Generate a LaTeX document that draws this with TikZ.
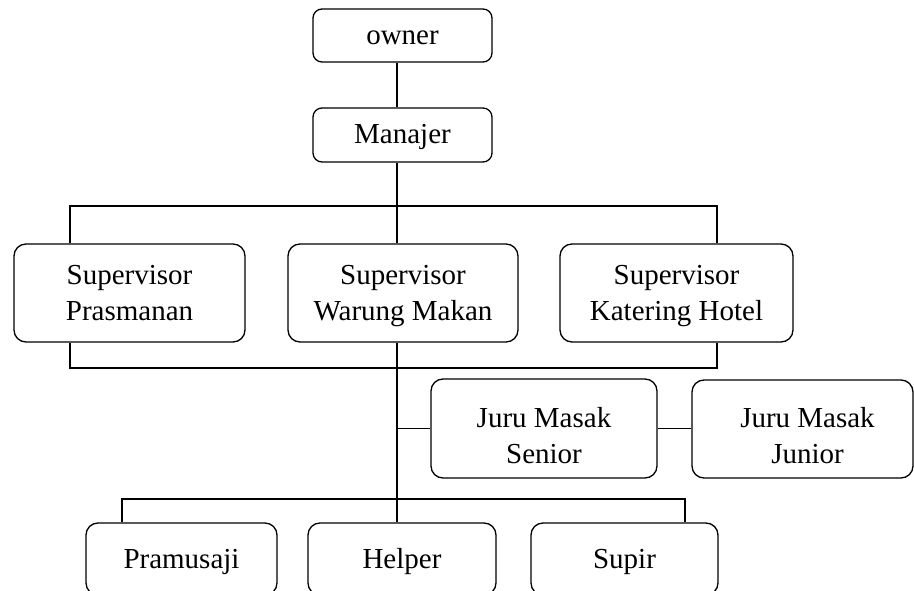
\documentclass[tikz,border=0pt]{standalone}
\usepackage{fontspec}
\setmainfont{Liberation Serif}
\newcommand\topA{\rule{0pt}{27pt}}
\newcommand\botA{\rule[-9pt]{0pt}{9pt}}
\newcommand\topB{\rule{0pt}{34.5pt}}
\newcommand\botB{\rule[-1.5pt]{0pt}{1.5pt}}
\begin{document}
\begin{tikzpicture}[x=1pt,y=-1pt,
  box/.style={draw, line width=1.3pt, rounded corners=12pt, inner sep=0pt, align=center,
    font=\fontsize{29}{36}\selectfont},
  smallbox/.style={box, rounded corners=9pt},
  conn/.style={line width=1.3pt}]
\useasboundingbox (0,0) rectangle (914,591);
\clip (0,0) rectangle (914,591);
% nodes
\node[smallbox, minimum width=179pt, minimum height=53pt] (owner) at (402.5,35.5) {\topA owner\botA};
\node[smallbox, minimum width=179pt, minimum height=54pt] (man) at (402.5,135) {\topA Manajer\botA};
\node[box, minimum width=231pt, minimum height=98pt] (sp) at (129.5,293) {\topA Supervisor\\Prasmanan\botA};
\node[box, minimum width=230pt, minimum height=98pt] (sw) at (403,293) {\topA Supervisor\\Warung Makan\botA};
\node[box, minimum width=233pt, minimum height=98pt] (sk) at (676.5,293) {\topA Supervisor\\Katering Hotel\botA};
\node[box, minimum width=226pt, minimum height=99pt] (jms) at (544,428.5) {\topB Juru Masak\\Senior\botB};
\node[box, minimum width=221pt, minimum height=98pt] (jmj) at (802.5,429) {\hspace*{10pt}\topB Juru Masak\\\hspace*{10pt}Junior\botB};
\node[box, minimum width=191pt, minimum height=72pt] (pram) at (181.5,559) {\topA Pramusaji\botA};
\node[box, minimum width=188pt, minimum height=72pt] (help) at (402,559) {\topA Helper\botA};
\node[box, minimum width=187pt, minimum height=72pt] (sup) at (624.5,559) {\topA Supir\botA};
% coordinates
\coordinate (tx) at (397,0);
\coordinate (lx) at (70,0);
\coordinate (rx) at (717,0);
\coordinate (ty) at (0,206);
\coordinate (by) at (0,368);
\coordinate (wy) at (0,499);
\coordinate (plx) at (122,0);
\coordinate (slx) at (685,0);
% connectors
\draw[conn] (owner.south -| tx) -- (man.north -| tx);
\draw[conn] (man.south -| tx) -- (sw.north -| tx);
\draw[conn] (sp.north -| lx) -- (ty -| lx) -- (ty -| rx) -- (sk.north -| rx);
\draw[conn] (sp.south -| lx) -- (by -| lx) -- (by -| rx) -- (sk.south -| rx);
\draw[conn] (sw.south -| tx) -- (help.north -| tx);
\draw[conn] (jms.west -| tx) -- (jms.west);
\draw[conn] (jms.east) -- (jmj.west |- jms.east);
\draw[conn] (pram.north -| plx) -- (wy -| plx) -- (wy -| slx) -- (sup.north -| slx);
\end{tikzpicture}
\end{document}
